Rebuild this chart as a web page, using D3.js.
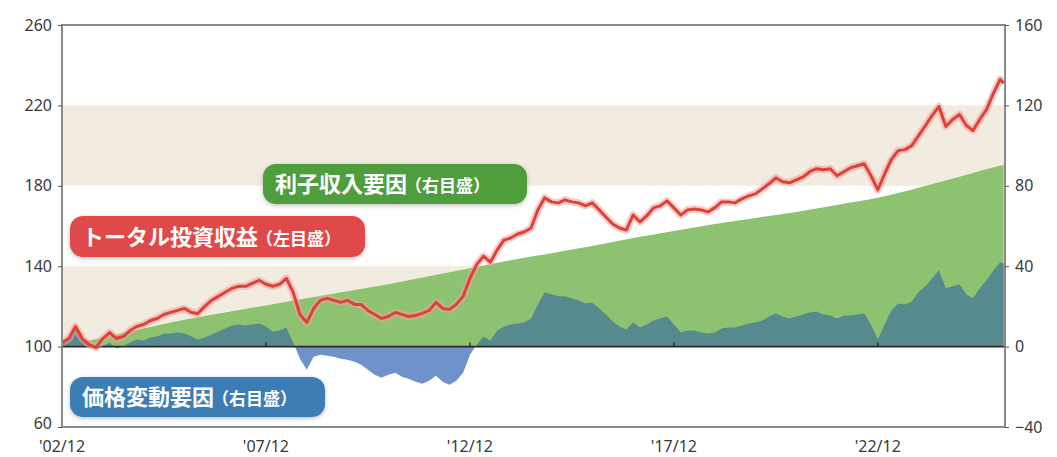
<!DOCTYPE html>
<html>
<head>
<meta charset="utf-8">
<script src="https://cdn.jsdelivr.net/npm/d3@7"></script>
<style>
  body { margin: 0; background: #fff; }
  svg { display: block; }
  .tick-label { font-family: "Noto Sans", "DejaVu Sans", sans-serif; font-size: 16px; fill: #3a3a3a; }
  .badge-text { font-family: "Noto Sans CJK JP", sans-serif; font-weight: 700; fill: #fff; }
</style>
</head>
<body>
<div id="wrapper"></div>
<script>
// data: sampled every 2 months from 2002/12, last point 2026/01
const startMonth = new Date(2002, 11, 1);
const sampleIdx = d3.range(0, 277, 2).concat([277]);

// total investment return (left axis, 2002/12 = 100)
const totalReturn = [
  102, 104, 110, 104, 101, 99.5, 104, 107, 104, 105,
  108, 110, 111, 113, 114, 116, 117, 118, 119, 117,
  116.5, 120, 123, 125, 127, 129, 130, 130, 131.5, 133,
  131, 130, 131, 134, 127, 116, 112, 119, 123, 124,
  123, 122, 123, 121, 121, 118, 116, 114, 115, 117,
  116, 115, 115.5, 116.5, 118, 122, 119, 118.5, 121, 125,
  134, 141, 145, 142, 148, 153, 154, 156, 157, 159,
  168, 174, 172, 171.5, 173, 172, 171.5, 170, 171.5, 168,
  164.5, 161, 159, 158, 165.5, 162, 165, 169, 170, 172.5,
  169, 165.5, 168, 168.5, 168, 167, 169, 172, 172, 171.5,
  173.5, 175, 176, 178.5, 181, 184, 182, 181.5, 183, 184.5,
  187, 188.5, 188, 188.5, 185, 187, 189, 190, 191, 185,
  178, 186, 193, 197.5, 198, 200, 205, 210, 215, 219.5,
  209.5, 213, 215.5, 210, 207.5, 213, 218, 226, 233,
  231
];

// price change factor (right axis)
const priceFactor = [
  2, 5, 9, 4, 0.5, -1.5, 0, 2, -1, 0,
  2, 3.5, 3, 4.5, 5, 6.5, 6.5, 7, 6.5, 5,
  3.5, 4.5, 6, 7.5, 9, 10.5, 11, 10.5, 11, 11.5,
  10, 7.5, 8, 9.5, 2, -6, -11.5, -5, -4, -4.5,
  -5, -6, -6.5, -7.5, -9, -11.5, -14, -15.5, -14, -13,
  -15, -16, -17.5, -18.5, -17, -14.5, -17.5, -19, -17, -13,
  -4, 1, 5, 3, 8, 10, 11, 11.5, 12, 14,
  21, 27, 26, 25, 25, 24, 23, 21.5, 22, 19,
  16, 12.5, 10, 8.5, 12, 9.5, 11, 13, 14, 15,
  11, 7, 8, 8, 7, 6.5, 7, 9, 9.5, 9.5,
  10.5, 11.5, 12, 13, 15, 16.5, 15, 14, 15, 16,
  17, 17.5, 16, 15.5, 14, 15.5, 15.5, 16, 16.5, 11,
  3.5, 11, 18, 21.5, 21, 22.5, 27, 30, 34, 38,
  29, 30, 31, 26, 24, 29, 33, 38, 42,
  41.5
];

// interest income factor (right axis), yearly from 2002/12, last point 2026/01
const interestIdx = d3.range(0, 277, 12).concat([277]);
const interestIncome = [
  0, 4.5, 9, 13.3, 17, 20.5, 24, 27.5, 31, 35,
  39, 43, 46.5, 50, 54, 57.5, 61, 64, 67, 70.5,
  74, 79, 84.5, 90, 90.4
];

const leftTicks = [60, 100, 140, 180, 220, 260];
const rightTicks = [-40, 0, 40, 80, 120, 160];
const xTickLabels = ["'02/12", "'07/12", "'12/12", "'17/12", "'22/12"];
const bandRanges = [[180, 220], [100, 140]];

const monthDate = i => d3.timeMonth.offset(startMonth, i);
const xTickDates = xTickLabels.map((d, i) => monthDate(i * 60));

let dimensions = {
  width: 1057,
  height: 457,
  margin: { top: 25, right: 52, bottom: 30, left: 62 },
};
dimensions.boundedWidth = dimensions.width - dimensions.margin.left - dimensions.margin.right;
dimensions.boundedHeight = dimensions.height - dimensions.margin.top - dimensions.margin.bottom;

const wrapper = d3.select('#wrapper')
  .append('svg')
  .attr('width', dimensions.width)
  .attr('height', dimensions.height);

const bounds = wrapper.append('g')
  .attr('transform', `translate(${dimensions.margin.left},${dimensions.margin.top})`);

// scales
const xScale = d3.scaleTime()
  .domain([startMonth, d3.timeDay.offset(monthDate(277), 12)])
  .range([0, dimensions.boundedWidth]);

const yLeft = d3.scaleLinear()
  .domain([60, 260])
  .range([dimensions.boundedHeight, 0]);

const yRight = d3.scaleLinear()
  .domain([-40, 160])
  .range([dimensions.boundedHeight, 0]);

// background bands
bounds.selectAll('.band')
  .data(bandRanges)
  .enter()
  .append('rect')
  .attr('x', 0)
  .attr('width', dimensions.boundedWidth)
  .attr('y', d => yLeft(d[1]))
  .attr('height', d => yLeft(d[0]) - yLeft(d[1]))
  .attr('fill', '#f2ebdf');

// interest income (green)
const interestData = interestIdx.map((m, i) => ({ date: monthDate(m), v: interestIncome[i] }));
const interestArea = d3.area()
  .x(d => xScale(d.date))
  .y0(yRight(0))
  .y1(d => yRight(d.v))
  .curve(d3.curveMonotoneX);
bounds.append('path')
  .datum(interestData)
  .attr('d', interestArea)
  .attr('fill', '#8dc270');

// price change factor: teal above zero, blue below
const priceData = sampleIdx.map((m, i) => ({ date: monthDate(m), v: priceFactor[i] }));
const priceArea = d3.area()
  .x(d => xScale(d.date))
  .y0(yRight(0))
  .y1(d => yRight(d.v));

const defs = wrapper.append('defs');
defs.append('clipPath').attr('id', 'clip-pos')
  .append('rect')
  .attr('x', 0).attr('y', 0)
  .attr('width', dimensions.boundedWidth)
  .attr('height', yRight(0));
defs.append('clipPath').attr('id', 'clip-neg')
  .append('rect')
  .attr('x', 0).attr('y', yRight(0))
  .attr('width', dimensions.boundedWidth)
  .attr('height', dimensions.boundedHeight - yRight(0));

bounds.append('path')
  .datum(priceData)
  .attr('d', priceArea)
  .attr('clip-path', 'url(#clip-pos)')
  .attr('fill', '#568a8f');
bounds.append('path')
  .datum(priceData)
  .attr('d', priceArea)
  .attr('clip-path', 'url(#clip-neg)')
  .attr('fill', '#6e92c9');

// zero line
bounds.append('line')
  .attr('x1', 0).attr('x2', dimensions.boundedWidth)
  .attr('y1', yLeft(100)).attr('y2', yLeft(100))
  .attr('stroke', '#2a2a2a')
  .attr('stroke-width', 1.6);

// x ticks sit on the zero line
bounds.selectAll('.xtick')
  .data(xTickDates.slice(1))
  .enter()
  .append('line')
  .attr('x1', d => xScale(d)).attr('x2', d => xScale(d))
  .attr('y1', yLeft(100)).attr('y2', yLeft(100) - 4)
  .attr('stroke', '#2a2a2a')
  .attr('stroke-width', 1.4);

// total return line with soft glow
const totalData = sampleIdx.map((m, i) => ({ date: monthDate(m), v: totalReturn[i] }));
const totalLine = d3.line()
  .x(d => xScale(d.date))
  .y(d => yLeft(d.v));
bounds.append('path')
  .datum(totalData)
  .attr('d', totalLine)
  .attr('fill', 'none')
  .attr('stroke', '#f3a3a0')
  .attr('stroke-width', 7.5)
  .attr('stroke-opacity', 0.55)
  .attr('stroke-linejoin', 'round');
bounds.append('path')
  .datum(totalData)
  .attr('d', totalLine)
  .attr('fill', 'none')
  .attr('stroke', '#dd4238')
  .attr('stroke-width', 3)
  .attr('stroke-linejoin', 'round');

// frame
bounds.append('rect')
  .attr('width', dimensions.boundedWidth)
  .attr('height', dimensions.boundedHeight)
  .attr('fill', 'none')
  .attr('stroke', '#8a8a8a')
  .attr('stroke-width', 2);

// axes
const leftAxis = bounds.append('g')
  .call(d3.axisLeft(yLeft).tickValues(leftTicks).tickSize(4).tickPadding(6));
const rightAxis = bounds.append('g')
  .attr('transform', `translate(${dimensions.boundedWidth},0)`)
  .call(d3.axisRight(yRight).tickValues(rightTicks).tickSize(4).tickPadding(6)
    .tickFormat(d => d < 0 ? '\u2212' + Math.abs(d) : d));
[leftAxis, rightAxis].forEach(ax => {
  ax.select('.domain').remove();
  ax.selectAll('.tick line').attr('stroke', '#555');
  ax.selectAll('.tick text').attr('class', 'tick-label').attr('fill', null);
});
// keep the bottom-left label clear of the first date label
leftAxis.selectAll('.tick text').filter(d => d === 60).attr('dy', '0.1em');

bounds.selectAll('.xlabel')
  .data(xTickLabels)
  .enter()
  .append('text')
  .attr('class', 'tick-label')
  .attr('x', (d, i) => xScale(xTickDates[i]))
  .attr('y', dimensions.boundedHeight + 25)
  .attr('text-anchor', 'middle')
  .text(d => d);

// badges
const badgeNames = ['利子収入要因', 'トータル投資収益', '価格変動要因'];
const badgeNotes = ['（右目盛）', '（左目盛）', '（右目盛）'];
const badgeColors = ['#4f9e3c', '#e0494a', '#3d7db6'];
const badgeBoxes = [[263, 164, 264, 40], [70, 216, 295, 41], [70, 377, 255, 40]];

const shadow = defs.append('filter').attr('id', 'badge-shadow')
  .attr('x', '-10%').attr('y', '-30%').attr('width', '120%').attr('height', '160%');
shadow.append('feDropShadow')
  .attr('dx', 0).attr('dy', 1.5).attr('stdDeviation', 2)
  .attr('flood-color', '#000').attr('flood-opacity', 0.25);

const badges = wrapper.selectAll('.badge')
  .data(badgeNames)
  .enter()
  .append('g')
  .attr('transform', (d, i) => `translate(${badgeBoxes[i][0]},${badgeBoxes[i][1]})`);
badges.append('rect')
  .attr('width', (d, i) => badgeBoxes[i][2])
  .attr('height', (d, i) => badgeBoxes[i][3])
  .attr('rx', 13)
  .attr('fill', (d, i) => badgeColors[i])
  .attr('filter', 'url(#badge-shadow)');
const badgeText = badges.append('text')
  .attr('class', 'badge-text')
  .attr('x', 12)
  .attr('y', (d, i) => badgeBoxes[i][3] / 2 + 8);
badgeText.append('tspan')
  .style('font-size', '22px')
  .text(d => d);
badgeText.append('tspan')
  .style('font-size', '17px')
  .attr('dx', -2)
  .text((d, i) => badgeNotes[i]);
</script>
</body>
</html>
